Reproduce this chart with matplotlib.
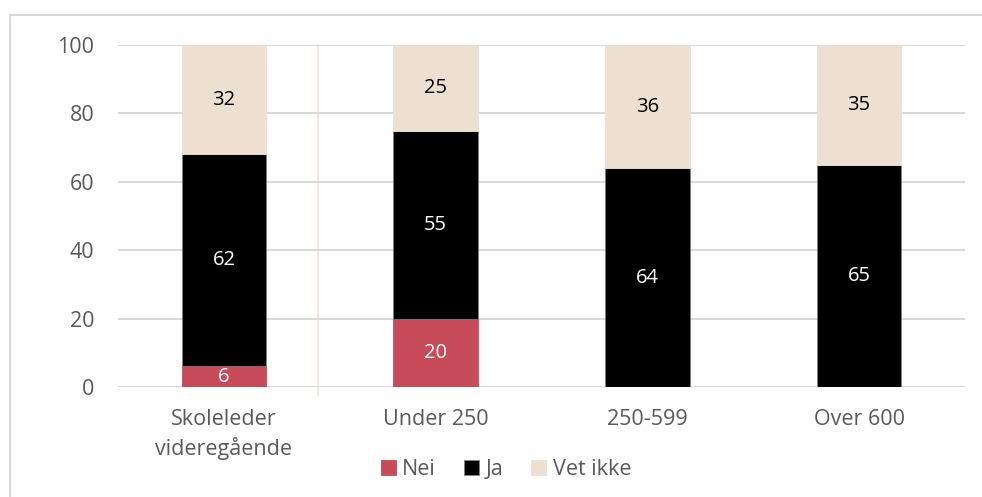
import matplotlib.pyplot as plt
from matplotlib.lines import Line2D
from matplotlib.patches import Rectangle

plt.rcParams['font.family'] = ['Open Sans', 'DejaVu Sans']

categories = ["Skoleleder\nvideregående", "Under 250", "250-599", "Over 600"]
nei = [6, 20, 0, 0]
ja = [62, 55, 64, 65]
vet_ikke = [32, 25, 36, 35]

series = [("Nei", nei, "#C84B5A", "white"),
          ("Ja", ja, "#000000", "white"),
          ("Vet ikke", vet_ikke, "#EDE0D0", "black")]

fig = plt.figure(figsize=(9.82, 4.97), dpi=100)
ax = fig.add_axes([118 / 982, 1 - 387 / 497, (965 - 118) / 982, (387 - 45) / 497])

# light frame round the chart area
fig.patches.append(Rectangle((10 / 982, -0.1), 1.1, 1 - 15 / 497 + 0.1,
                             transform=fig.transFigure, fill=False,
                             edgecolor="#D9D9D9", linewidth=1.5))

x = list(range(len(categories)))
bottom = [0] * len(categories)
for name, vals, color, txt in series:
    ax.bar(x, vals, width=0.4, bottom=bottom, color=color,
           edgecolor="#7F7F7F" if color == "#000000" else color,
           linewidth=0.6, zorder=3, label=name)
    for i, v in enumerate(vals):
        if v > 0:
            ax.text(i, bottom[i] + v / 2, str(v), ha="center", va="center",
                    color=txt, fontsize=14.5, zorder=4)
    bottom = [b + v for b, v in zip(bottom, vals)]

ax.set_xlim(-0.5, 3.5)
ax.set_ylim(0, 100)
ax.set_yticks(range(0, 101, 20))
ax.set_xticks(x)
ax.set_xticklabels(categories, linespacing=1.4)
ax.grid(axis="y", color="#D9D9D9", linewidth=1.5, zorder=0)
for s in ax.spines.values():
    s.set_visible(False)
ax.tick_params(length=0, colors="#595959", labelsize=15.5)
ax.tick_params(axis="y", pad=17)
ax.tick_params(axis="x", pad=16)

# thin separator after the first group
ax.add_line(Line2D([0.443, 0.443], [-2.3, 100], color="#EDE5D8",
                   linewidth=1.2, clip_on=False, zorder=1))

leg = ax.legend(loc="center", bbox_to_anchor=(0.458, -0.24), ncol=3,
                frameon=False, fontsize=15.5, handlelength=0.7, handleheight=0.7,
                handletextpad=0.3, columnspacing=1.3, borderaxespad=0)
for t in leg.get_texts():
    t.set_color("#595959")

fig.savefig("out.png", dpi=100)
